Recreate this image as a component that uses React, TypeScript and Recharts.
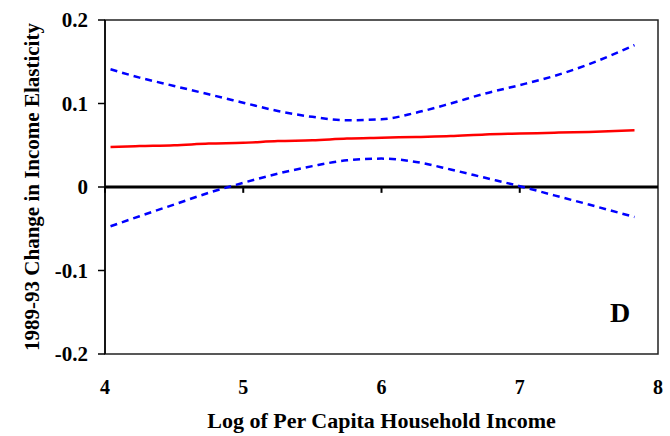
import React from "react";
import { LineChart, Line, XAxis, YAxis, ReferenceLine, ReferenceArea } from "recharts";

const incomeX = [4.04, 4.25, 4.5, 4.75, 5.0, 5.25, 5.5, 5.75, 6.0, 6.25, 6.5, 6.75, 7.0, 7.25, 7.5, 7.83];
const estimate = [0.048, 0.049, 0.05, 0.052, 0.053, 0.055, 0.056, 0.058, 0.059, 0.06, 0.061, 0.063, 0.064, 0.065, 0.066, 0.068];
const upperBand = [0.141, 0.131, 0.121, 0.111, 0.101, 0.091, 0.084, 0.08, 0.081, 0.089, 0.1, 0.112, 0.122, 0.133, 0.147, 0.17];
const lowerBand = [-0.047, -0.035, -0.021, -0.007, 0.005, 0.016, 0.025, 0.032, 0.034, 0.03, 0.021, 0.011, 0.001, -0.01, -0.021, -0.036];
const xTicks = [4, 5, 6, 7, 8];
const yTicks = [0.2, 0.1, 0, -0.1, -0.2];
const yTickLabels = ["0.2", "0.1", "0", "-0.1", "-0.2"];
const zeroLineTicks = [4, 5, 6, 7];

const data = incomeX.map((x, i) => ({ x, est: estimate[i], up: upperBand[i], lo: lowerBand[i] }));

const FONT = "'Liberation Serif', 'Times New Roman', serif";

export default function App() {
  return (
    <div style={{ position: "absolute", left: 0, top: 0, width: 670, height: 436, background: "#fff" }}>
      <LineChart width={670} height={436} data={data} margin={{ top: 20, right: 12, left: 0, bottom: 0 }}>
        <ReferenceArea x1={4} x2={8} y1={-0.2} y2={0.2} fill="none" stroke="#222" strokeWidth={1.5} ifOverflow="visible" />
        <XAxis
          dataKey="x"
          type="number"
          domain={[4, 8]}
          ticks={xTicks}
          axisLine={false}
          tickLine={false}
          tickMargin={20}
          height={82}
          tick={{ fontFamily: FONT, fontWeight: "bold", fontSize: 20, fill: "#000" }}
          label={{ value: "Log of Per Capita Household Income", position: "insideBottom", offset: 8, style: { fontFamily: FONT, fontWeight: "bold", fontSize: 22, fill: "#000" } }}
        />
        <YAxis
          type="number"
          domain={[-0.2, 0.2]}
          ticks={yTicks}
          width={105}
          tickSize={7}
          tickMargin={10}
          axisLine={{ stroke: "#000", strokeWidth: 1.5 }}
          tickLine={{ stroke: "#000", strokeWidth: 1.5 }}
          tickFormatter={(v: number) => yTickLabels[yTicks.indexOf(v)] ?? String(v)}
          tick={{ fontFamily: FONT, fontWeight: "bold", fontSize: 21, fill: "#000" }}
          label={{ value: "1989-93 Change in Income Elasticity", angle: -90, position: "insideLeft", offset: 32, style: { fontFamily: FONT, fontWeight: "bold", fontSize: 21, fill: "#000", textAnchor: "middle" } }}
        />
        <ReferenceLine y={0} stroke="#000" strokeWidth={3} />
        {zeroLineTicks.map((t) => (
          <ReferenceLine key={t} segment={[{ x: t, y: 0 }, { x: t, y: -0.007 }]} stroke="#000" strokeWidth={2} />
        ))}
        <Line type="monotone" dataKey="up" stroke="#0000FF" strokeWidth={2.5} strokeDasharray="7 5" dot={false} isAnimationActive={false} />
        <Line type="monotone" dataKey="lo" stroke="#0000FF" strokeWidth={2.5} strokeDasharray="7 5" dot={false} isAnimationActive={false} />
        <Line type="monotone" dataKey="est" stroke="#FF0000" strokeWidth={2.5} dot={false} isAnimationActive={false} />
        <text x={620} y={322} textAnchor="middle" style={{ fontFamily: FONT, fontWeight: "bold", fontSize: 28, fill: "#000" }}>D</text>
      </LineChart>
    </div>
  );
}
